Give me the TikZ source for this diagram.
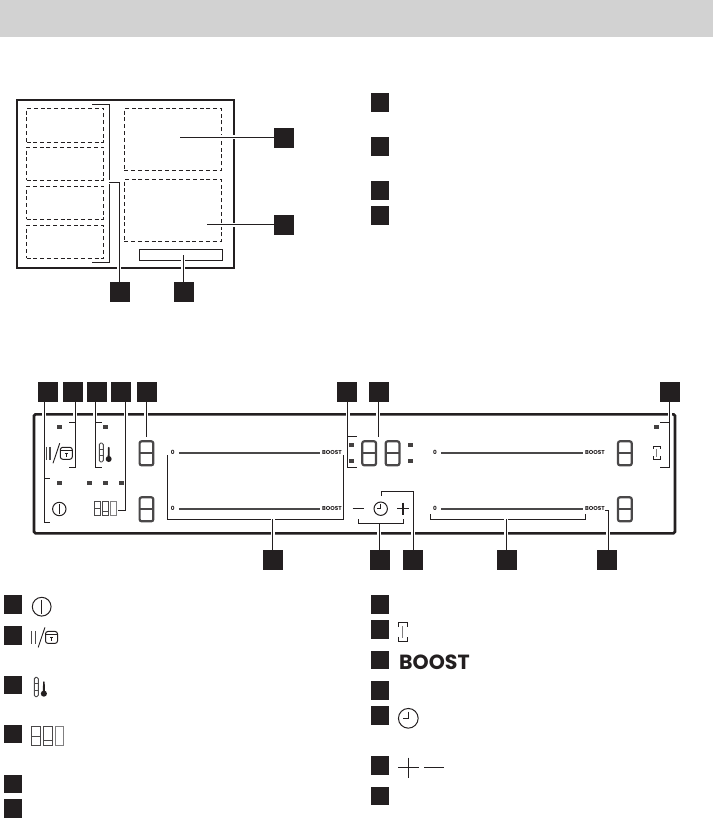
\documentclass[tikz,border=0pt]{standalone}
\usepackage{fontspec}
\usepackage{xcolor}
\setmainfont{Poppins}
\usetikzlibrary{positioning,calc}
\definecolor{ink}{HTML}{231F20}
\definecolor{seg}{HTML}{4A4849}
\tikzset{
 pwricon/.pic={\draw[ink,line width=1pt] (0,0) circle[radius=6.7];
  \draw[ink,line width=1pt] (0,-5) -- (0,5);},
 clkicon/.pic={\draw[ink,line width=1pt] (0,0) circle[radius=6.7];
  \draw[ink,line width=1pt] (0,-4.5) -- (0,0) -- (-3.5,0);},
 lockicon/.pic={\draw[seg,line width=1.1pt] (.5,-6.5) -- (.5,6.5) (4,-6.5) -- (4,6.5);
  \draw[ink,line width=.9pt] (7,10) -- (13.7,-10);
  \draw[ink,line width=1pt,rounded corners=2.5pt] (14.3,-6) rectangle (26.3,6);
  \draw[ink,line width=.8pt] (14.3,-3) -- (26.3,-3) (20.3,-.5) -- (20.3,3.8) (18.8,.3) -- (21.8,.3);},
 tempicon/.pic={\draw[seg,line width=.9pt,rounded corners=1.5pt] (0,-9.5) rectangle (4,9.5);
  \draw[seg,line width=.9pt] (0,-3.2) -- (4,-3.2) (0,3.2) -- (4,3.2);
  \fill[ink] (8.4,5) -- (8.6,-4.8) -- (9.4,-5.6) -- (10.2,-4.8) -- (10.4,5) -- cycle;
  \fill[ink] (9.4,6.5) circle[radius=3];},
 segicon/.pic={\draw[seg,line width=1pt] (0,-6.7) rectangle (6,6.7) (0,0) -- (6,0);
  \draw[seg,line width=1pt] (8,-6.7) rectangle (14,6.7) (8,3) -- (14,3);
  \draw[seg!70,line width=1pt] (16,-6.7) rectangle (22,6.7);},
 brgicon/.pic={\draw[ink,line width=.9pt] (-3.3,-3.5) -- (-3.3,-6.7) -- (3.3,-6.7) -- (3.3,-3.5);
  \draw[ink,line width=.9pt] (-3.3,3.5) -- (-3.3,6.7) -- (3.3,6.7) -- (3.3,3.5);
  \draw[seg!70,line width=1pt] (0,-4) -- (0,4);},
 digit/.pic={\draw[seg,line width=2.2pt,rounded corners=2pt] (.3,.6) rectangle (14,24.6);
  \draw[seg,line width=2.2pt] (.3,12.5) -- (14,12.5);}
}
\begin{document}
\begin{tikzpicture}[x=1pt,y=-1pt,
 keybox/.style={fill=ink,inner sep=0pt,minimum width=20pt,minimum height=20pt},
 lstbox/.style={fill=ink,inner sep=0pt,minimum width=18pt,minimum height=18.5pt},
 zone/.style={draw=ink,dashed,dash pattern=on 4pt off 2.8pt,line width=.9pt,inner sep=0pt},
 lead/.style={draw=ink,line width=1pt,preaction={draw=white,line width=4pt}},
 brk/.style={draw=ink,line width=1pt},
 led/.style={fill=ink!85,inner sep=0pt,minimum width=5pt,minimum height=4pt},
 slide/.style={draw=seg,line width=1.6pt},
 tick/.style={font=\bfseries\fontsize{5.7}{6}\selectfont,text=ink,inner sep=0pt}]
\useasboundingbox (0,0) rectangle (713,818);
\node[fill={rgb,255:red,210;green,210;blue,210},inner sep=0pt,minimum width=713pt,minimum height=37pt] (band) at (356.5,18.5) {};

% hob
\node[draw=ink,line width=2pt,inner sep=0pt,minimum width=217pt,minimum height=168pt] (hob) at (125.5,184) {};
\node[zone,minimum width=77pt,minimum height=34pt] (z1) at (65,125.3) {};
\node[zone,minimum width=77pt,minimum height=33pt] (z2) at (65,163.8) {};
\node[zone,minimum width=77pt,minimum height=33pt] (z3) at (65,202.8) {};
\node[zone,minimum width=77pt,minimum height=33pt] (z4) at (65,241.8) {};
\node[zone,minimum width=97pt,minimum height=62pt] (z5) at (172.8,139.3) {};
\node[zone,minimum width=97pt,minimum height=62pt] (z6) at (172.8,210.3) {};
\node[draw=ink,line width=1pt,inner sep=0pt,minimum width=83pt,minimum height=11pt] (pan) at (180.8,254.8) {};
\coordinate (z5c) at (180.3,137.3);
\coordinate (z6c) at (206.7,224.6);
\coordinate (panc) at (183,255);
\coordinate (brkc) at (109.3,182.3);
\node[keybox] (k1) at (284,138) {};
\node[keybox] (k2) at (284,225) {};
\node[keybox] (k3) at (120,292) {};
\node[keybox] (k4) at (184,292) {};
\draw[brk] (92,104.3) -- (109.3,104.3) -- (109.3,262.3) -- (92,262.3);
\draw[lead] (k1.west |- z5c) -- (z5c);
\draw[lead] (k2.west |- z6c) -- (z6c);
\draw[lead] (k3.north -| 119.3,0) -- (119.3,182.3) -- (brkc);
\draw[lead] (k4.north -| panc) -- (panc);

% list next to hob
\node[lstbox] (a1) at (380,102.5) {};
\node[lstbox] (a2) at (380,146.5) {};
\node[lstbox] (a3) at (380,190.5) {};
\node[lstbox] (a4) at (380,215.5) {};

% panel
\node[draw=ink,line width=2.6pt,rounded corners=1.5pt,inner sep=0pt,minimum width=641pt,minimum height=119pt] (panel) at (354.5,473.8) {};
\node[keybox] (t1) at (48,392) {};
\node[keybox] (t2) at (73,392) {};
\node[keybox] (t3) at (97,392) {};
\node[keybox] (t4) at (121,392) {};
\node[keybox] (t5) at (147,392) {};
\node[keybox] (t6) at (347,392) {};
\node[keybox] (t7) at (379,392) {};
\node[keybox] (t8) at (670,392) {};
\node[keybox] (b1) at (273,560) {};
\node[keybox] (b2) at (380,560) {};
\node[keybox] (b3) at (413,560) {};
\node[keybox] (b4) at (507,560) {};
\node[keybox] (b5) at (607,560) {};

\coordinate (e1) at (44,478.3);
\coordinate (e2) at (75,422.3);
\coordinate (e3) at (95.3,422.3);
\coordinate (e4) at (125.7,510.7);
\coordinate (e5) at (146.3,436.7);
\coordinate (e6) at (347.5,436.7);
\coordinate (e7) at (378.3,436.7);
\coordinate (e8) at (669.7,422.3);
\draw[lead] (t1.south -| e1) -- (44,522.3) -- (50,522.3);
\draw[brk] (e1) -- (50,478.3);
\draw[lead] (t2.south -| e2) -- (75,467.3) -- (69,467.3);
\draw[brk] (e2) -- (69,422.3);
\draw[lead] (t3.south -| e3) -- (95.3,467.3) -- (102,467.3);
\draw[brk] (e3) -- (102,422.3);
\draw[lead] (t4.south -| e4) -- (e4) -- (117.7,510.7);
\draw[lead] (t5.south -| e5) -- (e5);
\draw[lead] (t6.south -| e6) -- (347.5,467.3) -- (356.7,467.3);
\draw[brk] (e6) -- (356.7,436.7);
\draw[lead] (t7.south -| e7) -- (e7);
\draw[lead] (t8.south -| e8) -- (669.7,467.3) -- (660,467.3);
\draw[brk] (e8) -- (660,422.3);
\coordinate (f1) at (272.7,519.3);
\coordinate (f2) at (379.3,523.7);
\coordinate (f3) at (413,491.3);
\coordinate (f4) at (506.3,519.3);
\coordinate (f5) at (608,510);
\draw[brk] (167.3,455) -- (167.3,519.3) -- (343.7,519.3) -- (343.7,455);
\draw[lead] (b1.north -| f1) -- (f1);
\draw[brk] (358.3,519.3) -- (358.3,523.7) -- (403.3,523.7) -- (403.3,519.3);
\draw[lead] (b2.north -| f2) -- (f2);
\draw[lead] (b3.north -| f3) -- (f3) -- (381,491.3) -- (381,496);
\draw[brk] (430.3,514.3) -- (430.3,519.3) -- (585.7,519.3) -- (585.7,514.3);
\draw[lead] (b4.north -| f4) -- (f4);
\draw[lead] (b5.north -| f5) -- (f5) -- (605,510);

% indicators
\node[led] (l1) at (59.3,426.7) {};
\node[led] (l2) at (105,426.7) {};
\node[led] (l3) at (59.3,483) {};
\node[led] (l4) at (89.3,483) {};
\node[led] (l5) at (105,483) {};
\node[led] (l6) at (121,483) {};
\node[led] (l7) at (351.7,445) {};
\node[led] (l8) at (351.7,460.7) {};
\node[led] (l9) at (410,445) {};
\node[led] (l10) at (410,460.7) {};
\node[led] (l11) at (656.3,426.7) {};

% displays and sliders
\pic at (139.3,440.7) {digit};
\pic at (139.3,496.7) {digit};
\pic at (362,440.7) {digit};
\pic at (385.4,440.7) {digit};
\pic at (617.7,440.7) {digit};
\pic at (617.7,496.7) {digit};
\node[tick] (n1) at (172.7,452.7) {0};
\node[tick,anchor=west] (x1) at (322,452.7) {BOOST};
\draw[slide] (n1.east) ++(4,0) -- ($(x1.west)+(-2,0)$);
\node[tick] (n2) at (172.7,508.7) {0};
\node[tick,anchor=west] (x2) at (322,508.7) {BOOST};
\draw[slide] (n2.east) ++(4,0) -- ($(x2.west)+(-2,0)$);
\node[tick] (n3) at (435,452.7) {0};
\node[tick,anchor=west] (x3) at (585,452.7) {BOOST};
\draw[slide] (n3.east) ++(4,0) -- ($(x3.west)+(-2,0)$);
\node[tick] (n4) at (435,508.7) {0};
\node[tick,anchor=west] (x4) at (585,508.7) {BOOST};
\draw[slide] (n4.east) ++(4,0) -- ($(x4.west)+(-2,0)$);

% panel icons
\pic at (59.3,509) {pwricon};
\pic at (46,453.3) {lockicon};
\pic at (99.3,452.5) {tempicon};
\pic at (94.3,508.5) {segicon};
\pic at (656.7,452.7) {brgicon};
\pic at (380.7,508.7) {clkicon};
\draw[ink,line width=1.1pt] (397,508.7) -- (409,508.7) (403,502.7) -- (403,514.7);
\draw[ink,line width=1.1pt] (352.7,508.7) -- (364,508.7);

% lists below
\node[lstbox] (c1) at (13,604.5) {};
\node[lstbox] (c2) at (13,635.5) {};
\node[lstbox] (c3) at (13,685) {};
\node[lstbox] (c4) at (13,734) {};
\node[lstbox] (c5) at (13,784) {};
\node[lstbox] (c6) at (13,808.5) {};
\node[lstbox] (d1) at (380,604.5) {};
\node[lstbox] (d2) at (380,629.5) {};
\node[lstbox] (d3) at (380,660) {};
\node[lstbox] (d4) at (380,690.5) {};
\node[lstbox] (d5) at (380,715.5) {};
\node[lstbox] (d6) at (380,765.5) {};
\node[lstbox] (d7) at (380,796) {};
\pic[scale=1.4] at (41.7,606.7) {pwricon};
\pic at (31.2,637.4) {lockicon};
\pic[scale=1.02] at (34.3,687) {tempicon};
\pic[scale=1.47] at (31.5,736) {segicon};
\pic[scale=1.45] at (402.8,631.7) {brgicon};
\pic[scale=1.47] at (408.3,718.3) {clkicon};
\node[font=\bfseries\fontsize{20.5}{22}\selectfont,text=ink,inner sep=0pt,anchor=west] (boost) at (399,662.3) {BOOST};
\draw[ink,line width=1.3pt] (398.3,767.7) -- (418.7,767.7) (408.5,757.5) -- (408.5,777.9);
\draw[ink,line width=1.3pt] (424,767.7) -- (444,767.7);
\end{tikzpicture}
\end{document}
